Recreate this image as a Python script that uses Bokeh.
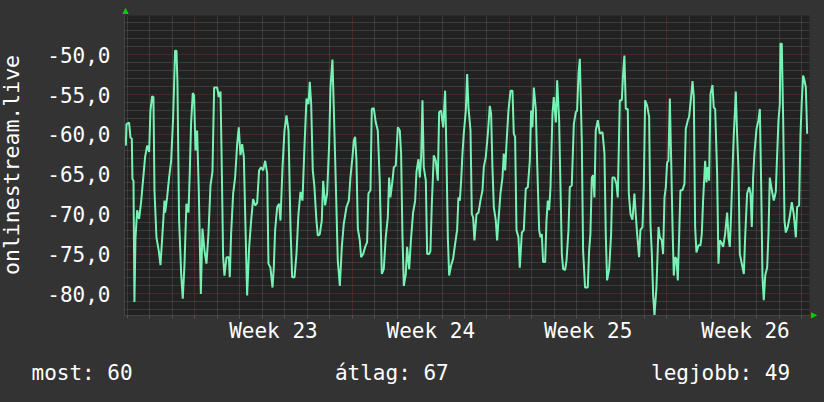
from bokeh.plotting import figure
from bokeh.models import FixedTicker, Range1d, Title, Div
from bokeh.layouts import row
from bokeh.embed import file_html
from bokeh.resources import INLINE

FONT = "DejaVu Sans Mono"

# time in hours from the start of Week 23, value in dB
hours_a = [
    -73.6, -72.9, -70.1, -68.6, -67.2, -66.5, -65.4, -64.4, -63.3, -61.5,
    -59.4, -57.3, -55.1, -53.0, -50.8, -48.7, -47.3, -45.5, -44.1, -43.0,
    -40.9, -38.4, -36.6, -34.5, -32.3, -31.6, -29.5, -27.4, -25.2, -23.1,
    -21.0, -19.5, -18.5, -16.7, -14.5, -12.8, -11.0, -8.9, -6.7, -5.3,
    -3.9, -2.1, -0.7, 0.8, 2.5, 4.3, 6.5, 8.2, 10.4, 12.5,
    14.6, 16.8, 18.9, 20.7, 23.9, 25.7, 27.5, 28.9, 30.3, 31.7,
    33.9, 36.4, 37.4, 38.8, 41.0, 43.1, 45.3, 47.0, 48.8, 50.6,
    52.4, 53.8, 55.9, 58.1, 60.2, 62.3, 64.5, 66.6, 68.7, 70.9,
    73.0, 75.2, 77.3, 78.7, 80.8, 83.0, 84.4, 85.8, 88.0, 90.1,
    91.5, 93.7, 95.8, 97.9, 100.1, 102.2, 104.0, 106.5, 108.6, 110.7,
    112.9, 115.0, 117.1, 119.3, 121.4, 122.8, 124.3, 126.0, 127.8, 129.9,
    131.4, 133.5, 135.6, 137.1, 139.2, 141.3, 143.5, 144.9, 147.0, 148.5,
    150.6, 152.7, 154.9, 157.0, 159.1, 162.0, 164.5,
]
values_a = [
    -61.4, -58.7, -58.5, -60.4, -60.5, -65.6, -65.8, -81.0, -73.1, -69.5,
    -70.6, -68.5, -65.6, -62.8, -61.4, -62.2, -57.0, -55.2, -55.3, -67.0,
    -72.9, -74.6, -76.4, -72.5, -68.3, -69.8, -67.9, -65.4, -63.3, -58.0,
    -49.5, -49.5, -53.4, -70.8, -77.5, -80.6, -76.4, -68.7, -69.8, -64.7,
    -58.5, -54.8, -55.1, -62.0, -59.5, -67.0, -80.0, -71.8, -74.6, -76.2,
    -72.5, -66.4, -64.7, -54.1, -54.1, -55.3, -54.6, -64.5, -75.4, -77.7,
    -75.4, -75.4, -77.9, -72.5, -67.4, -65.4, -61.2, -59.1, -62.6, -61.2,
    -62.8, -69.8, -80.2, -74.1, -70.8, -68.1, -68.9, -68.6, -64.5, -64.1,
    -64.5, -63.3, -64.9, -76.2, -76.7, -79.2, -76.7, -72.0, -69.1, -68.7,
    -70.8, -64.1, -59.5, -57.6, -59.5, -71.6, -77.9, -77.9, -75.0, -70.0,
    -67.2, -68.3, -61.6, -55.5, -56.2, -53.4, -56.2, -64.5, -66.6, -70.8,
    -72.7, -72.5, -70.8, -65.8, -68.9, -67.4, -61.2, -54.1, -50.6, -57.0,
    -66.2, -75.8, -79.0, -74.1, -71.2, -69.1, -68.3,
]

hours_b = [
    166.2, 168.4, 169.8, 171.2, 172.6, 174.1, 176.2, 177.6, 179.8, 181.9,
    184.0, 185.4, 187.6, 189.0, 191.1, 193.3, 195.4, 197.5, 199.7, 201.8,
    203.9, 206.1, 207.5, 208.9, 211.1, 212.5, 214.6, 216.8, 218.9, 220.3,
    221.7, 223.2, 225.3, 226.7, 228.9, 231.0, 233.1, 235.3, 236.7, 238.8,
    240.3, 241.7, 243.1, 244.5, 246.7, 248.1, 250.2, 251.6, 253.1, 255.2,
    257.3, 259.5, 260.9, 263.0, 265.2, 267.3, 268.7, 270.2, 271.6, 273.7,
    275.8, 278.0, 280.1, 281.5, 283.0, 284.4, 285.8, 287.2, 289.4, 290.8,
    292.2, 294.4, 295.8, 297.2, 298.6, 300.8, 302.9, 305.0, 307.2, 308.6,
    310.7, 312.9, 315.0, 316.4, 317.8, 319.3, 321.4, 322.8, 324.2, 326.4,
    328.5, 329.9, 331.4, 332.8, 334.9, 337.1, 339.2, 340.6, 342.0, 343.5,
    345.6, 347.0, 349.2, 351.3, 353.4, 355.6, 357.7, 359.1, 360.5, 362.0,
    364.1, 365.5, 367.7, 369.1, 370.5, 371.9, 374.1, 375.5, 376.9, 378.3,
    379.8, 381.9, 383.3, 385.5, 386.9, 389.0, 390.4, 391.9, 393.3, 395.4,
    396.9, 399.0, 400.4, 402.5, 404.7, 406.8, 408.2, 409.7, 411.1,
]
values_b = [
    -65.4, -62.8, -60.8, -60.3, -63.1, -71.8, -73.3, -75.4, -75.0, -74.1,
    -73.5, -67.4, -67.0, -56.8, -56.7, -58.5, -59.5, -65.8, -77.5, -76.9,
    -72.9, -70.4, -65.4, -67.9, -65.8, -64.1, -63.9, -59.1, -59.5, -62.4,
    -72.5, -79.0, -77.5, -74.1, -76.9, -72.9, -69.8, -68.3, -64.7, -63.1,
    -65.4, -62.8, -55.7, -64.1, -65.8, -75.0, -75.0, -74.6, -68.7, -62.6,
    -63.3, -65.8, -57.2, -57.0, -59.1, -54.5, -62.4, -72.9, -77.7, -76.4,
    -75.6, -73.7, -72.0, -67.9, -68.3, -65.8, -62.4, -59.9, -57.0, -52.4,
    -56.6, -59.5, -70.0, -70.4, -73.3, -70.0, -69.8, -68.3, -67.0, -64.1,
    -62.8, -59.9, -56.4, -57.4, -64.1, -69.1, -70.8, -73.3, -70.8, -67.4,
    -65.4, -62.4, -64.5, -61.2, -57.0, -54.5, -54.5, -59.9, -60.3, -72.0,
    -72.9, -76.7, -72.3, -72.0, -66.8, -66.6, -63.3, -57.0, -59.1, -54.1,
    -56.8, -63.3, -72.0, -72.9, -72.5, -76.0, -76.0, -70.8, -68.3, -69.5,
    -66.6, -57.4, -55.3, -58.5, -53.2, -58.2, -66.2, -75.0, -76.9, -77.0,
    -75.8, -72.0, -66.6, -66.4, -58.7, -57.2, -57.0, -52.4, -50.5,
]

hours_c = [
    413.2, 414.6, 416.7, 419.6, 421.0, 422.4, 423.9, 425.3, 426.7, 428.1,
    430.3, 432.4, 435.3, 437.4, 438.8, 440.2, 442.4, 444.5, 445.9, 448.1,
    450.2, 451.6, 453.8, 455.9, 457.3, 458.7, 460.2, 462.3, 463.4, 465.2,
    467.3, 469.4, 470.8, 472.3, 474.4, 475.8, 478.0, 479.4, 480.8, 483.0,
    485.1, 486.5, 488.0, 489.4, 490.8, 492.9, 495.1, 496.5, 498.6, 500.0,
    501.5, 502.9, 504.3, 505.7, 507.2, 508.6, 510.0, 511.4, 512.9, 514.3,
    515.7, 517.1, 518.5, 520.7, 522.8, 524.2, 526.4, 527.8, 529.9, 531.4,
    532.8, 534.2, 535.6, 537.8, 539.9, 541.3, 542.7, 544.9, 546.3, 547.7,
    549.1, 550.6, 552.7, 554.1, 555.6, 557.7, 559.1, 560.5, 562.0, 564.1,
    566.2, 568.4, 569.8, 571.2, 572.6, 574.1, 575.5, 576.9, 577.6, 579.0,
    580.5, 581.9, 584.0, 586.2, 587.6, 589.7, 591.9, 593.3, 594.7, 596.1,
    597.5, 599.7, 601.8, 603.3, 604.7, 606.1, 607.5, 609.0, 611.1, 612.5,
    613.9, 616.1, 618.2, 620.3, 621.8, 623.2, 624.6, 625.3, 626.7, 628.2,
    629.6, 631.0, 633.1, 635.3, 637.4, 639.5, 641.7, 643.1, 645.2, 646.7,
    648.1, 649.5, 650.9, 652.4, 653.8,
]
values_c = [
    -60.8, -74.6, -79.2, -79.2, -74.6, -72.5, -65.4, -65.1, -67.9, -59.5,
    -58.2, -59.9, -59.7, -62.4, -72.5, -78.3, -76.9, -72.5, -65.4, -65.4,
    -66.2, -67.9, -55.7, -55.7, -52.4, -50.1, -56.8, -56.8, -67.4, -70.0,
    -70.7, -67.4, -70.0, -72.5, -75.4, -72.0, -71.6, -66.6, -55.7, -56.4,
    -57.8, -71.2, -75.0, -80.2, -82.7, -79.2, -71.6, -72.9, -73.3, -75.0,
    -67.9, -66.6, -63.5, -63.3, -55.5, -63.1, -71.2, -77.7, -75.4, -75.6,
    -78.3, -72.9, -67.0, -67.0, -66.2, -59.3, -58.2, -57.8, -55.3, -53.3,
    -55.3, -71.6, -74.8, -73.9, -73.9, -72.5, -68.3, -63.3, -66.0, -64.1,
    -65.8, -54.9, -53.8, -56.6, -56.8, -64.9, -76.2, -73.3, -73.5, -74.1,
    -72.5, -69.8, -72.9, -74.1, -70.0, -64.5, -59.9, -56.6, -54.6, -59.9,
    -64.5, -75.0, -76.2, -77.5, -72.9, -67.4, -66.6, -67.4, -71.6, -65.4,
    -62.4, -59.3, -58.2, -56.8, -66.2, -77.9, -80.8, -77.7, -76.7, -72.5,
    -65.4, -67.0, -68.3, -67.2, -62.4, -58.2, -56.2, -48.6, -48.6, -58.2,
    -70.8, -72.3, -71.6, -70.2, -68.5, -70.0, -72.9, -69.1, -68.9, -59.9,
    -55.7, -52.6, -53.2, -54.1, -59.9,
]

hours = hours_a + hours_b + hours_c
values = values_a + values_b + values_c
assert len(hours) == len(values)

y_tick_values = [-80, -75, -70, -65, -60, -55, -50]
y_tick_labels = ["-80,0", "-75,0", "-70,0", "-65,0", "-60,0", "-55,0", "-50,0"]
week_label_hours = [84, 252, 420, 588]
week_labels = ["Week 23", "Week 24", "Week 25", "Week 26"]
week_start_hours = [0, 168, 336, 504]
day_hours = [24 * k for k in range(-3, 28)]
y_minor = [v for v in range(-82, -45) if v % 5 != 0]
y_label = "onlinestream.live"
legend_texts = ["most: 60", "átlag: 67", "legjobb: 49"]

BG = "#333333"
W, H = 824, 402
DIV_W = 30
FRAME_L, FRAME_R, FRAME_T, FRAME_B = 124, 809, 15, 315
X0, X1 = -75.0, 656.3
Y0, Y1 = -82.71, -45.07

p = figure(width=W - DIV_W, height=H, output_backend="svg", toolbar_location=None,
           x_range=Range1d(X0, X1), y_range=Range1d(Y0, Y1),
           min_border_left=FRAME_L - DIV_W, min_border_right=W - FRAME_R,
           min_border_top=FRAME_T, min_border_bottom=H - FRAME_B,
           background_fill_color="#222222", border_fill_color=BG,
           outline_line_color=None, margin=0)

# grids
p.xgrid.ticker = FixedTicker(ticks=week_start_hours,
                             minor_ticks=[d for d in day_hours if d % 168 != 0])
p.ygrid.ticker = FixedTicker(ticks=y_tick_values, minor_ticks=y_minor)
for g in (p.xgrid, p.ygrid):
    g.grid_line_color = "#742c2c"
    g.grid_line_dash = "1 1"
    g.grid_line_width = 1
    g.minor_grid_line_color = "#555555"
    g.minor_grid_line_dash = "1 1"
    g.minor_grid_line_width = 1

# x axis
xa = p.xaxis[0]
xa.ticker = FixedTicker(ticks=week_label_hours, minor_ticks=day_hours)
xa.major_label_overrides = dict(zip(week_label_hours, week_labels))
xa.major_tick_line_color = None
xa.major_tick_out = 0
xa.major_tick_in = 0
xa.minor_tick_line_color = "#555555"
xa.minor_tick_in = 0
xa.minor_tick_out = 3
xa.axis_line_color = "#444444"
xa.major_label_standoff = 0
xa.major_label_text_font = FONT
xa.major_label_text_font_size = "21px"
xa.major_label_text_color = "#ffffff"

# y axis
ya = p.yaxis[0]
ya.ticker = FixedTicker(ticks=y_tick_values, minor_ticks=[])
ya.major_label_overrides = dict(zip(y_tick_values, y_tick_labels))
ya.major_tick_line_color = None
ya.major_tick_out = 0
ya.major_tick_in = 0
ya.minor_tick_line_color = None
ya.axis_line_color = "#444444"
ya.major_label_standoff = 14
ya.major_label_text_font = FONT
ya.major_label_text_font_size = "21px"
ya.major_label_text_color = "#ffffff"

p.line(hours, values, line_color="#78f2b4", line_width=2)

# legend line below (monospace, padded with no-break spaces)
NBSP = "\u00a0"
legend_line = (legend_texts[0] + NBSP * 16 + legend_texts[1] + NBSP * 16
               + legend_texts[2])
p.add_layout(Title(text=legend_line, align="left", offset=-93, standoff=27,
                   text_font=FONT, text_font_size="21px", text_font_style="normal",
                   text_color="#ffffff"), "below")

# axis arrows
green = "#00d000"
p.add_layout(Title(text="\u25b2", align="left", offset=-2, standoff=1,
                   text_font="DejaVu Sans", text_font_size="8px",
                   text_font_style="normal", text_color=green), "above")
p.add_layout(Title(text="\u25b2", align="right", offset=-3, standoff=1,
                   text_font="DejaVu Sans", text_font_size="8px",
                   text_font_style="normal", text_color=green), "right")

# vertical axis title, in a narrow strip left of the figure
label_html = (
    '<div style="white-space:nowrap;font-family:\'DejaVu Sans Mono\';'
    'font-size:21.5px;line-height:21px;color:#ffffff;width:max-content;'
    'transform-origin:0 0;transform:translate(1px,275px) rotate(-90deg);">'
    + y_label + '</div>'
)
div = Div(text=label_html, width=DIV_W, height=H, margin=0,
          styles={"background-color": BG, "overflow": "visible"})

layout = row(div, p, spacing=0, width=W, height=H,
             styles={"background-color": BG})

open("out.html", "w").write(file_html(layout, INLINE))
